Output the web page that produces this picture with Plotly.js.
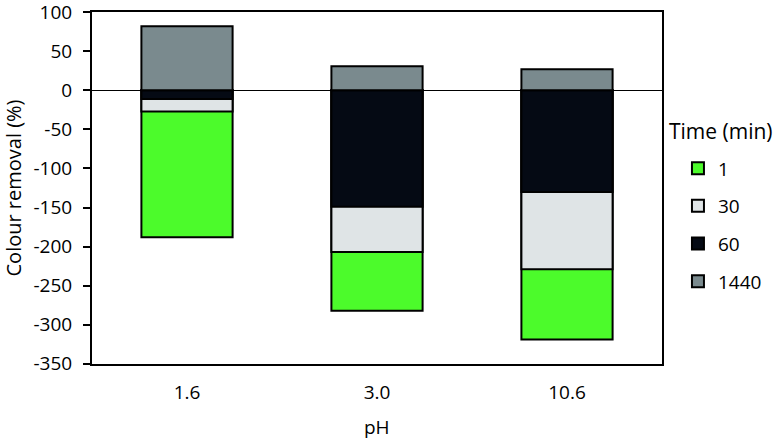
<!DOCTYPE html>
<html>
<head>
<meta charset="utf-8">
<script src="https://cdn.plot.ly/plotly-3.0.1.min.js"></script>
<style>html,body{margin:0;padding:0;background:#fff;}#chart{width:779px;height:442px;}</style>
</head>
<body>
<div id="chart"></div>
<script>
const categories = ['1.6', '3.0', '10.6'];
const seriesNames = ['1', '30', '60', '1440'];
const removal1 = [-188, -282, -319];
const removal30 = [-27, -207, -229];
const removal60 = [-11, -149, -130];
const removal1440 = [82, 31, 27];
const yTicks = [100, 50, 0, -50, -100, -150, -200, -250, -300, -350];
const legendTitle = 'Time (min)';
const xTitle = 'pH';

const colors = ['#4cfb2b', '#dfe4e6', '#050a14', '#7a8a8e'];
const values = [removal1, removal30, removal60, removal1440];

const traces = values.map((v, i) => ({
  type: 'bar',
  x: categories,
  y: v,
  name: seriesNames[i],
  legendgroup: 'g' + i,
  marker: {color: colors[i], opacity: 1, line: {color: '#000', width: 2}},
  width: 0.48
}));

const FF = 'Open Sans, sans-serif';
const font = {family: FF, size: 19, color: '#000'};

const layout = {
  width: 779, height: 442,
  margin: {l: 92, r: 117, t: 12, b: 78},
  barmode: 'overlay',
  paper_bgcolor: '#fff', plot_bgcolor: '#fff',
  font: font,
  showlegend: true,
  legend: {
    x: 1.028, xanchor: 'left', y: 0.61, yanchor: 'top',
    tracegroupgap: 10,
    traceorder: 'grouped',
    font: {family: FF, size: 19, color: '#000'},
    bgcolor: 'rgba(0,0,0,0)'
  },
  annotations: [{
    text: legendTitle, xref: 'paper', yref: 'paper', x: 1.008, xanchor: 'left',
    y: 0.661, yanchor: 'middle', showarrow: false, font: {family: FF, size: 21, color: '#000'}
  }, {
    text: xTitle, xref: 'paper', yref: 'paper', x: 0.5, xanchor: 'center',
    y: -0.18, yanchor: 'middle', showarrow: false, font: {family: FF, size: 19, color: '#000'}
  }],
  xaxis: {
    type: 'category',
    showline: true, linecolor: '#000', linewidth: 2, mirror: true,
    ticks: '', showgrid: false, zeroline: false,
    ticklabelstandoff: 10,
    tickfont: font
  },
  yaxis: {
    title: {text: 'Colour removal (%)', font: {family: FF, size: 20, color: '#000'}, standoff: 6},
    range: [-350.3, 100.3], tickvals: yTicks, ticktext: yTicks.map(String),
    ticklabeloverflow: 'allow', ticklabelstandoff: 7,
    showline: true, linecolor: '#000', linewidth: 2, mirror: true,
    ticks: 'outside', ticklen: 7, tickwidth: 2, tickcolor: '#000',
    showgrid: false, zeroline: true, zerolinecolor: '#000', zerolinewidth: 1.5,
    tickfont: {family: FF, size: 19, color: '#000'}
  }
};

Plotly.newPlot('chart', traces, layout, {displayModeBar: false, staticPlot: true});
</script>
</body>
</html>
